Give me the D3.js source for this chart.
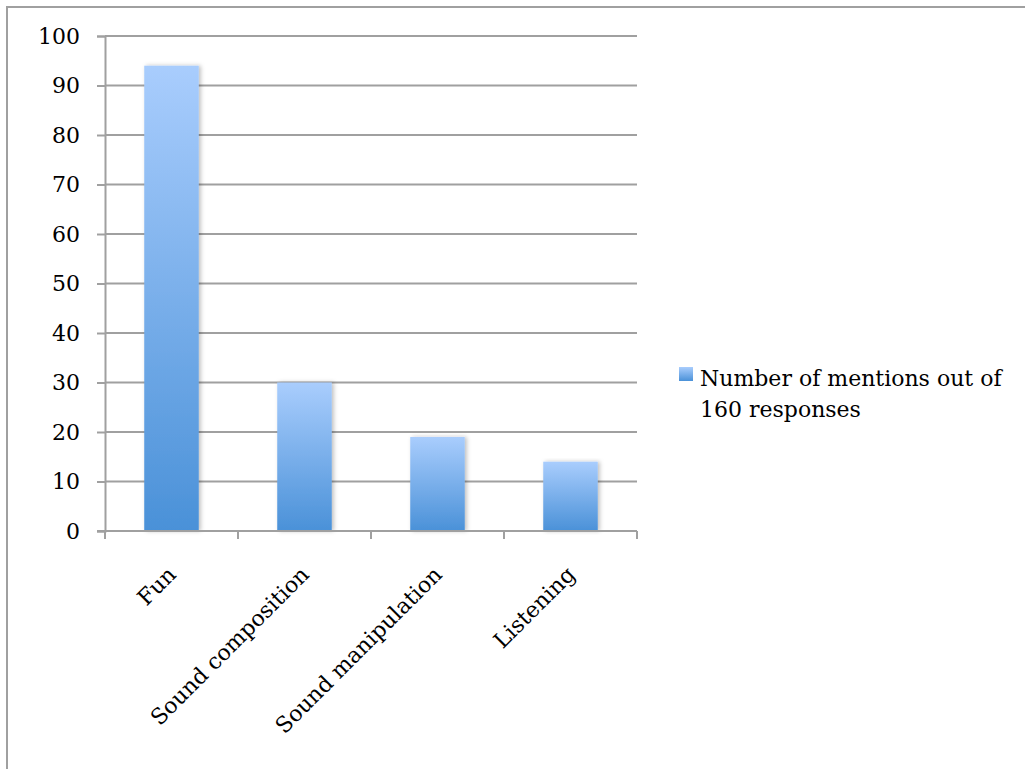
<!DOCTYPE html>
<html>
<head>
<meta charset="utf-8">
<script src="https://cdn.jsdelivr.net/npm/d3@7"></script>
<style>
  html, body { margin: 0; padding: 0; background: #fff; }
  svg { display: block; }
  text { font-family: "DejaVu Serif", serif; fill: #000; }
</style>
</head>
<body>
<svg id="chart" width="1025" height="769"></svg>
<script>
// Survey categories and how often each was mentioned
const categories = ["Fun", "Sound composition", "Sound manipulation", "Listening"];
const mentions = [94, 30, 19, 14];
const yTicks = [0, 10, 20, 30, 40, 50, 60, 70, 80, 90, 100];
const seriesName = ["Number of mentions out of", "160 responses"];

const svg = d3.select("#chart");
const W = 1025, H = 769;
const plot = { left: 105, right: 637, top: 36, bottom: 531 };
const gridColor = "#a0a0a0";
const fontFam = "DejaVu Serif, serif";

// Outer frame (open at right/bottom edges of the page)
svg.append("rect")
  .attr("x", 7).attr("y", 7)
  .attr("width", W + 20).attr("height", H + 20)
  .attr("fill", "none").attr("stroke", gridColor).attr("stroke-width", 2);

const defs = svg.append("defs");
const grad = defs.append("linearGradient")
  .attr("id", "barFill").attr("x1", 0).attr("y1", 0).attr("x2", 0).attr("y2", 1);
grad.append("stop").attr("offset", "0%").attr("stop-color", "#a9cdfd");
grad.append("stop").attr("offset", "100%").attr("stop-color", "#4a91d8");

const shadow = defs.append("filter").attr("id", "barShadow")
  .attr("x", "-20%").attr("y", "-5%").attr("width", "140%").attr("height", "110%");
shadow.append("feDropShadow")
  .attr("dx", 2).attr("dy", 0).attr("stdDeviation", 2)
  .attr("flood-color", "#000").attr("flood-opacity", 0.25);

const x = d3.scaleBand().domain(categories)
  .range([plot.left, plot.right]).paddingInner(0.59).paddingOuter(0.295);
const y = d3.scaleLinear().domain([0, 100]).range([plot.bottom, plot.top]);

// Horizontal gridlines
svg.append("g")
  .selectAll("line").data(yTicks.filter(d => d > 0)).join("line")
  .attr("x1", plot.left).attr("x2", plot.right)
  .attr("y1", d => y(d)).attr("y2", d => y(d))
  .attr("stroke", gridColor).attr("stroke-width", 2);

// Y axis
const yAxis = svg.append("g")
  .attr("transform", `translate(${plot.left},0)`)
  .call(d3.axisLeft(y).tickValues(yTicks).tickSize(8).tickPadding(17));
yAxis.select(".domain").attr("stroke", gridColor).attr("stroke-width", 2);
yAxis.selectAll(".tick line").attr("stroke", gridColor).attr("stroke-width", 2);
yAxis.selectAll(".tick text")
  .attr("font-size", 22).attr("font-family", fontFam).attr("fill", "#000");

// Bars
svg.append("g")
  .selectAll("rect").data(categories).join("rect")
  .attr("x", d => x(d))
  .attr("width", x.bandwidth())
  .attr("y", (d, i) => y(mentions[i]))
  .attr("height", (d, i) => y(0) - y(mentions[i]))
  .attr("fill", "url(#barFill)")
  .attr("filter", "url(#barShadow)");

// X axis with category boundary ticks
const xg = svg.append("g");
xg.append("line")
  .attr("x1", plot.left - 8).attr("x2", plot.right)
  .attr("y1", y(0)).attr("y2", y(0))
  .attr("stroke", gridColor).attr("stroke-width", 2);
const step = x.step();
const bounds = d3.range(categories.length + 1).map(i => plot.left + i * step);
xg.selectAll("line.tk").data(bounds).join("line").attr("class", "tk")
  .attr("x1", d => d).attr("x2", d => d)
  .attr("y1", y(0)).attr("y2", y(0) + 8)
  .attr("stroke", gridColor).attr("stroke-width", 2);

// Rotated category labels
xg.selectAll("text").data(categories).join("text")
  .attr("transform", d => `translate(${x(d) + x.bandwidth() / 2 - 5},${y(0) + 34}) rotate(-45)`)
  .attr("text-anchor", "end")
  .attr("dy", "0.7em")
  .attr("font-size", 22)
  .text(d => d);

// Legend
const lg = svg.append("g");
lg.append("rect")
  .attr("x", 679).attr("y", 367).attr("width", 14).attr("height", 14)
  .attr("fill", "url(#barFill)");
lg.selectAll("text").data(seriesName).join("text")
  .attr("x", 700).attr("y", (d, i) => 386 + i * 31)
  .attr("font-size", 22)
  .text(d => d);
</script>
</body>
</html>
